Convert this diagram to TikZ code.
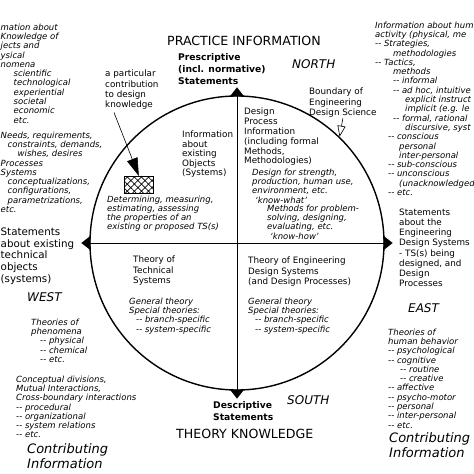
\documentclass[tikz,border=0pt]{standalone}
\usepackage{fontspec}
\setmainfont{DejaVu Sans}
\usetikzlibrary{arrows.meta,patterns.meta}

\tikzset{
  txt/.style={inner sep=0pt, anchor=north west, align=left},
  smallit/.style={txt, font=\fontsize{8.5}{9.3}\selectfont\itshape},
  smallup/.style={txt, font=\fontsize{8.8}{10.2}\selectfont},
  bigup/.style={txt, font=\fontsize{10.3}{11.8}\selectfont},
  boldtxt/.style={txt, font=\fontsize{9.2}{12}\selectfont\bfseries},
  heading/.style={txt, font=\fontsize{12.6}{15}\selectfont},
  compass/.style={txt, font=\fontsize{12}{14}\selectfont\itshape},
  contrib/.style={txt, font=\fontsize{13}{15}\selectfont\itshape},
  hatchbox/.style={draw, line width=1.1pt, anchor=north west,
    minimum width=29pt, minimum height=17pt,
    pattern={Lines[angle=45,distance=5pt,line width=.7pt]},
    preaction={pattern={Lines[angle=-45,distance=5pt,line width=.7pt]}}},
  pointer/.style={fill=black},
}

\begin{document}
\begin{tikzpicture}[x=1pt, y=-1pt]
    \useasboundingbox (0,0) rectangle (474,474);

    % the wheel
    \node [draw, circle, line width=1.4pt, minimum size=294pt, inner sep=0pt] (wheel) at (237,243) {};
    \draw [line width=.8pt] (wheel.north) -- (wheel.south);
    \draw [line width=.8pt] (wheel.west) -- (wheel.east);
    \fill [pointer] (wheel.north) ++(-7,1) -- ++(7,-9) -- ++(7,9) -- cycle;
    \fill [pointer] (wheel.south) ++(-7,-1) -- ++(7,9) -- ++(7,-9) -- cycle;
    \fill [pointer] (wheel.west) ++(1,-7) -- ++(-9,7) -- ++(9,7) -- cycle;
    \fill [pointer] (wheel.east) ++(-1,-7) -- ++(9,7) -- ++(-9,7) -- cycle;

    % north
    \node [heading] (practice) at (167,36) {PRACTICE INFORMATION};
    \node [boldtxt] (prescr) at (178,53.5) {Prescriptive\\(incl. normative)\\Statements};
    \node [compass] (north) at (292,59) {NORTH};
    \node [smallup] (bound) at (309,88) {Boundary of\\Engineering\\Design Science};
    \node [smallup] (partic) at (105,70) {a particular\\contribution\\to design\\knowledge};

    % west
    \node [smallit] (phen) at (0.5,23.5) {mation about\\Knowledge of\\jects and\\ysical\\nomena\\
      \hspace*{13pt}scientific\\\hspace*{13pt}technological\\\hspace*{13pt}experiential\\
      \hspace*{13pt}societal\\\hspace*{13pt}economic\\\hspace*{13pt}etc.};
    \node [smallit] (needs) at (0.5,131.5) {Needs, requirements,\\\hspace*{7pt}constraints, demands,\\
      \hspace*{17pt}wishes, desires\\Processes\\Systems\\\hspace*{7pt}conceptualizations,\\
      \hspace*{7pt}configurations,\\\hspace*{7pt}parametrizations,\\etc.};
    \node [bigup] (exist) at (0.5,227.5) {Statements\\about existing\\technical\\objects\\(systems)};
    \node [compass] (west) at (27,292) {WEST};
    \node [smallit] (theophen) at (31,318.5) {Theories of\\phenomena\\\hspace*{9pt}-{}- physical\\
      \hspace*{9pt}-{}- chemical\\\hspace*{9pt}-{}- etc.};
    \node [smallit] (concept) at (16,375.5) {Conceptual divisions,\\Mutual Interactions,\\
      Cross-boundary interactions\\-{}- procedural\\-{}- organizational\\-{}- system relations\\-{}- etc.};
    \node [contrib] (contribL) at (27,443.5) {Contributing\\Information};

    % east
    \node [smallit] (human) at (375,21.5) {Information about hum\\activity (physical, me\\
      -{}- Strategies,\\\hspace*{18pt}methodologies\\-{}- Tactics,\\\hspace*{18pt}methods\\
      \hspace*{18pt}-{}- informal\\\hspace*{18pt}-{}- ad hoc, intuitive\\
      \hspace*{30pt}explicit instruct\\\hspace*{30pt}implicit (e.g. le\\
      \hspace*{18pt}-{}- formal, rational\\\hspace*{30pt}discursive, syst\\
      \hspace*{13pt}-{}- conscious\\\hspace*{24pt}personal\\\hspace*{24pt}inter-personal\\
      \hspace*{13pt}-{}- sub-conscious\\\hspace*{13pt}-{}- unconscious\\
      \hspace*{24pt}(unacknowledged\\\hspace*{13pt}-{}- etc.};
    \node [smallup] (edstat) at (399,208.5) {Statements\\about the\\Engineering\\Design Systems\\
      - TS(s) being\\designed, and\\Design\\Processes};
    \node [compass] (east) at (408,303) {EAST};
    \node [smallit] (behav) at (388,328.5) {Theories of\\human behavior\\-{}- psychological\\
      -{}- cognitive\\\hspace*{12pt}-{}- routine\\\hspace*{12pt}-{}- creative\\-{}- affective\\
      -{}- psycho-motor\\-{}- personal\\-{}- inter-personal\\-{}- etc.};
    \node [contrib] (contribR) at (389,432) {Contributing\\Information};

    % inside the wheel
    \node [smallup, font=\fontsize{8.8}{9.4}\selectfont] (objinfo) at (182,131) {Information\\about\\existing\\Objects\\(Systems)};
    \node [hatchbox] (hatch) at (124,176) {};
    \node [smallit, font=\fontsize{8.5}{9}\selectfont\itshape] (determ) at (107,195.5) {Determining, measuring,\\estimating, assessing\\
      the properties of an\\existing or proposed TS(s)};
    \node [smallup, font=\fontsize{8.8}{9.8}\selectfont] (dpinfo) at (244,108) {Design\\Process\\Information\\(including formal\\Methods,\\Methodologies)};
    \node [smallit] (knowwhat) at (252,168.5) {Design for strength,\\production, human use,\\
      environment, etc.\\\hspace*{3pt}`know-what'};
    \node [smallit] (knowhow) at (267,204.5) {Methods for problem-\\solving, designing,\\
      evaluating, etc.\\\hspace*{3pt}`know-how'};
    \node [smallup] (tts) at (133,256) {Theory of\\Technical\\Systems};
    \node [smallit] (ttsgen) at (129,297.5) {General theory\\Special theories:\\
      \hspace*{7pt}-{}- branch-specific\\\hspace*{7pt}-{}- system-specific};
    \node [smallup] (teds) at (248,257) {Theory of Engineering\\Design Systems\\(and Design Processes)};
    \node [smallit] (tedsgen) at (248,297.5) {General theory\\Special theories:\\
      \hspace*{7pt}-{}- branch-specific\\\hspace*{7pt}-{}- system-specific};

    % south
    \node [compass] (south) at (287,395) {SOUTH};
    \node [boldtxt] (descr) at (213,401.5) {Descriptive\\Statements};
    \node [heading] (theory) at (176,429) {THEORY KNOWLEDGE};

    % pointers
    \draw [line width=.6pt, -{Triangle[length=18pt,width=11pt]}] ([xshift=9pt,yshift=-3pt]partic.south west) -- (hatch.north);
    \draw [line width=.6pt, -{Triangle[open,length=11pt,width=8pt]}] ([yshift=-1pt]bound.south) -- (wheel.46);
\end{tikzpicture}
\end{document}
